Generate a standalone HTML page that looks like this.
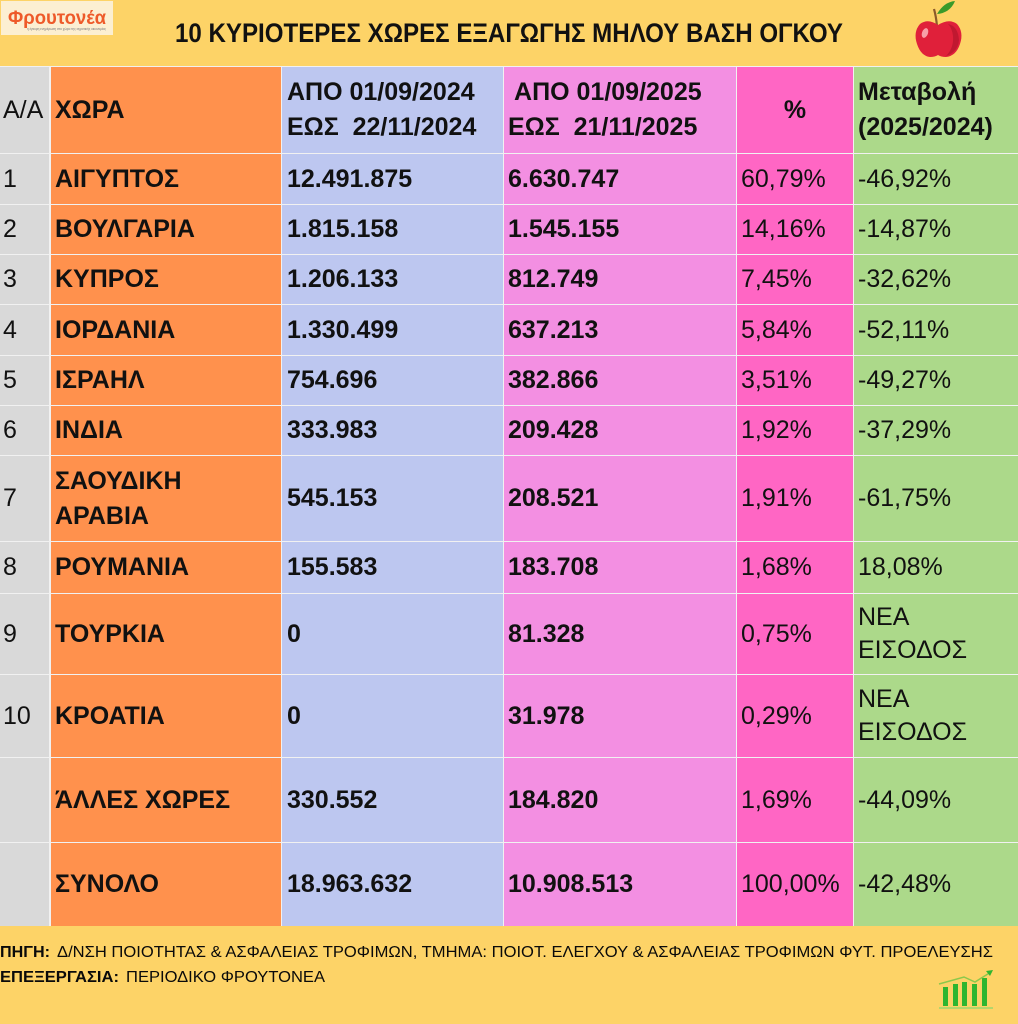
<!DOCTYPE html>
<html>
<head>
<meta charset="utf-8">
<style>
html,body{margin:0;padding:0;}
body{width:1018px;height:1024px;position:relative;overflow:hidden;background:#F1F1F1;font-family:"Liberation Sans",Arial,sans-serif;color:#111;}
.band{position:absolute;left:0;width:1018px;background:#FDD367;}
.c{position:absolute;display:flex;align-items:center;font-size:25px;line-height:35px;white-space:pre;box-sizing:border-box;}
.b{font-weight:bold;}
.g{background:#D9D9D9;left:0;width:49px;padding-left:3px;}
.o{background:#FF914D;left:51px;width:230px;padding-left:4px;font-weight:bold;}
.bl{background:#BDC7F0;left:282px;width:221px;padding-left:5px;font-weight:bold;}
.p{background:#F38FE2;left:504px;width:232px;padding-left:4px;font-weight:bold;}
.m{background:#FF66C4;left:737px;width:116px;padding-left:4px;}
.gr{background:#ACD98A;left:854px;width:164px;padding-left:4px;}
</style>
</head>
<body>
<div class="band" style="top:0;height:66px;"></div>
<div class="band" style="top:926px;height:98px;"></div>

<!-- logo -->
<div style="position:absolute;left:1px;top:1px;width:112px;height:34px;background:#FCEFD2;"></div>
<svg style="position:absolute;left:0;top:0" width="120" height="40">
<text x="8" y="24" font-family="Liberation Sans, Arial, sans-serif" font-weight="bold" font-size="19" fill="#EE5A2A" textLength="98" lengthAdjust="spacingAndGlyphs">Φρουτονέα</text>
<text x="27" y="30" font-family="Liberation Sans, Arial, sans-serif" font-size="4" fill="#777" textLength="79" lengthAdjust="spacingAndGlyphs">η έγκυρη ενημέρωση στο χώρο της αγροτικής οικονομίας</text>
</svg>

<!-- title -->
<svg style="position:absolute;left:0;top:0" width="1018" height="66">
<text x="175" y="42" font-family="Liberation Sans, Arial, sans-serif" font-weight="bold" font-size="27" textLength="668" lengthAdjust="spacingAndGlyphs" fill="#111">10 ΚΥΡΙΟΤΕΡΕΣ ΧΩΡΕΣ ΕΞΑΓΩΓΗΣ ΜΗΛΟΥ ΒΑΣΗ ΟΓΚΟΥ</text>
<!-- apple -->
<path d="M937 26 Q936 16 934 9" stroke="#8B5A2B" stroke-width="2.2" fill="none"/>
<path d="M937 14 Q944 2 955 1 Q950 13 937 14 Z" fill="#3A9A2A"/>
<path d="M938 25 Q928 18 920 24 Q913 32 917 44 Q921 56 930 57 Q935 57 938 55 Q941 57 946 57 Q956 56 960 44 Q964 32 957 24 Q949 18 938 25 Z" fill="#E0203A"/>
<path d="M948 24 Q958 26 959 40 Q958 52 946 56 Q954 48 953 36 Q952 28 948 24 Z" fill="#C01830"/>
<ellipse cx="925" cy="33" rx="3" ry="5" fill="#F7A0A8" transform="rotate(20 925 33)"/>
</svg>

<!-- header -->
<div class="c g" style="top:67px;height:86px;">Α/Α</div>
<div class="c o" style="top:67px;height:86px;">ΧΩΡΑ</div>
<div class="c bl" style="top:67px;height:86px;">ΑΠΟ 01/09/2024
ΕΩΣ  22/11/2024</div>
<div class="c p" style="top:67px;height:86px;"> ΑΠΟ 01/09/2025
ΕΩΣ  21/11/2025</div>
<div class="c m b" style="top:67px;height:86px;justify-content:center;padding-left:0;">%</div>
<div class="c gr b" style="top:67px;height:86px;">Μεταβολή
(2025/2024)</div>

<!-- row 1 -->
<div class="c g" style="top:154px;height:50px;">1</div>
<div class="c o" style="top:154px;height:50px;">ΑΙΓΥΠΤΟΣ</div>
<div class="c bl" style="top:154px;height:50px;">12.491.875</div>
<div class="c p" style="top:154px;height:50px;">6.630.747</div>
<div class="c m" style="top:154px;height:50px;">60,79%</div>
<div class="c gr" style="top:154px;height:50px;">-46,92%</div>

<!-- row 2 -->
<div class="c g" style="top:205px;height:49px;">2</div>
<div class="c o" style="top:205px;height:49px;">ΒΟΥΛΓΑΡΙΑ</div>
<div class="c bl" style="top:205px;height:49px;">1.815.158</div>
<div class="c p" style="top:205px;height:49px;">1.545.155</div>
<div class="c m" style="top:205px;height:49px;">14,16%</div>
<div class="c gr" style="top:205px;height:49px;">-14,87%</div>

<!-- row 3 -->
<div class="c g" style="top:255px;height:49px;">3</div>
<div class="c o" style="top:255px;height:49px;">ΚΥΠΡΟΣ</div>
<div class="c bl" style="top:255px;height:49px;">1.206.133</div>
<div class="c p" style="top:255px;height:49px;">812.749</div>
<div class="c m" style="top:255px;height:49px;">7,45%</div>
<div class="c gr" style="top:255px;height:49px;">-32,62%</div>

<!-- row 4 -->
<div class="c g" style="top:305px;height:50px;">4</div>
<div class="c o" style="top:305px;height:50px;">ΙΟΡΔΑΝΙΑ</div>
<div class="c bl" style="top:305px;height:50px;">1.330.499</div>
<div class="c p" style="top:305px;height:50px;">637.213</div>
<div class="c m" style="top:305px;height:50px;">5,84%</div>
<div class="c gr" style="top:305px;height:50px;">-52,11%</div>

<!-- row 5 -->
<div class="c g" style="top:356px;height:49px;">5</div>
<div class="c o" style="top:356px;height:49px;">ΙΣΡΑΗΛ</div>
<div class="c bl" style="top:356px;height:49px;">754.696</div>
<div class="c p" style="top:356px;height:49px;">382.866</div>
<div class="c m" style="top:356px;height:49px;">3,51%</div>
<div class="c gr" style="top:356px;height:49px;">-49,27%</div>

<!-- row 6 -->
<div class="c g" style="top:406px;height:49px;">6</div>
<div class="c o" style="top:406px;height:49px;">ΙΝΔΙΑ</div>
<div class="c bl" style="top:406px;height:49px;">333.983</div>
<div class="c p" style="top:406px;height:49px;">209.428</div>
<div class="c m" style="top:406px;height:49px;">1,92%</div>
<div class="c gr" style="top:406px;height:49px;">-37,29%</div>

<!-- row 7 -->
<div class="c g" style="top:456px;height:85px;">7</div>
<div class="c o" style="top:456px;height:85px;">ΣΑΟΥΔΙΚΗ
ΑΡΑΒΙΑ</div>
<div class="c bl" style="top:456px;height:85px;">545.153</div>
<div class="c p" style="top:456px;height:85px;">208.521</div>
<div class="c m" style="top:456px;height:85px;">1,91%</div>
<div class="c gr" style="top:456px;height:85px;">-61,75%</div>

<!-- row 8 -->
<div class="c g" style="top:542px;height:51px;">8</div>
<div class="c o" style="top:542px;height:51px;">ΡΟΥΜΑΝΙΑ</div>
<div class="c bl" style="top:542px;height:51px;">155.583</div>
<div class="c p" style="top:542px;height:51px;">183.708</div>
<div class="c m" style="top:542px;height:51px;">1,68%</div>
<div class="c gr" style="top:542px;height:51px;">18,08%</div>

<!-- row 9 -->
<div class="c g" style="top:594px;height:80px;">9</div>
<div class="c o" style="top:594px;height:80px;">ΤΟΥΡΚΙΑ</div>
<div class="c bl" style="top:594px;height:80px;">0</div>
<div class="c p" style="top:594px;height:80px;">81.328</div>
<div class="c m" style="top:594px;height:80px;">0,75%</div>
<div class="c gr" style="top:594px;height:80px;line-height:33px;">ΝΕΑ
ΕΙΣΟΔΟΣ</div>

<!-- row 10 -->
<div class="c g" style="top:675px;height:82px;">10</div>
<div class="c o" style="top:675px;height:82px;">ΚΡΟΑΤΙΑ</div>
<div class="c bl" style="top:675px;height:82px;">0</div>
<div class="c p" style="top:675px;height:82px;">31.978</div>
<div class="c m" style="top:675px;height:82px;">0,29%</div>
<div class="c gr" style="top:675px;height:82px;line-height:33px;">ΝΕΑ
ΕΙΣΟΔΟΣ</div>

<!-- other -->
<div class="c g" style="top:758px;height:84px;"></div>
<div class="c o" style="top:758px;height:84px;">ΆΛΛΕΣ ΧΩΡΕΣ</div>
<div class="c bl" style="top:758px;height:84px;">330.552</div>
<div class="c p" style="top:758px;height:84px;">184.820</div>
<div class="c m" style="top:758px;height:84px;">1,69%</div>
<div class="c gr" style="top:758px;height:84px;">-44,09%</div>

<!-- total -->
<div class="c g" style="top:843px;height:83px;"></div>
<div class="c o" style="top:843px;height:83px;">ΣΥΝΟΛΟ</div>
<div class="c bl" style="top:843px;height:83px;">18.963.632</div>
<div class="c p" style="top:843px;height:83px;">10.908.513</div>
<div class="c m" style="top:843px;height:83px;">100,00%</div>
<div class="c gr" style="top:843px;height:83px;">-42,48%</div>

<!-- footer -->
<svg style="position:absolute;left:0;top:926px" width="1018" height="98">
<g font-family="Liberation Sans, Arial, sans-serif" font-size="16" fill="#0a0a0a">
<text x="0" y="31" font-weight="bold" textLength="50" lengthAdjust="spacingAndGlyphs">ΠΗΓΗ:</text>
<text x="57" y="31" textLength="936" lengthAdjust="spacingAndGlyphs">Δ/ΝΣΗ ΠΟΙΟΤΗΤΑΣ &amp; ΑΣΦΑΛΕΙΑΣ ΤΡΟΦΙΜΩΝ, ΤΜΗΜΑ: ΠΟΙΟΤ. ΕΛΕΓΧΟΥ &amp; ΑΣΦΑΛΕΙΑΣ ΤΡΟΦΙΜΩΝ ΦΥΤ. ΠΡΟΕΛΕΥΣΗΣ</text>
<text x="0" y="56" font-weight="bold" textLength="119" lengthAdjust="spacingAndGlyphs">ΕΠΕΞΕΡΓΑΣΙΑ:</text>
<text x="126" y="56" textLength="199" lengthAdjust="spacingAndGlyphs">ΠΕΡΙΟΔΙΚΟ ΦΡΟΥΤΟΝΕΑ</text>
</g>
<!-- chart icon -->
<line x1="939" y1="82" x2="993" y2="82" stroke="#B5D66A" stroke-width="2"/>
<rect x="943" y="61" width="5" height="19" fill="#2FB52F"/>
<rect x="953" y="58" width="5" height="22" fill="#2FB52F"/>
<rect x="962" y="56" width="5" height="24" fill="#2FB52F"/>
<rect x="972" y="58" width="5" height="22" fill="#2FB52F"/>
<rect x="982" y="52" width="5" height="28" fill="#2FB52F"/>
<polyline points="939,58 964,51 975,56 991,46" fill="none" stroke="#8CC84B" stroke-width="1.5"/>
<polygon points="993,44 986,45 990,50" fill="#2FB52F"/>
</svg>
</body>
</html>
